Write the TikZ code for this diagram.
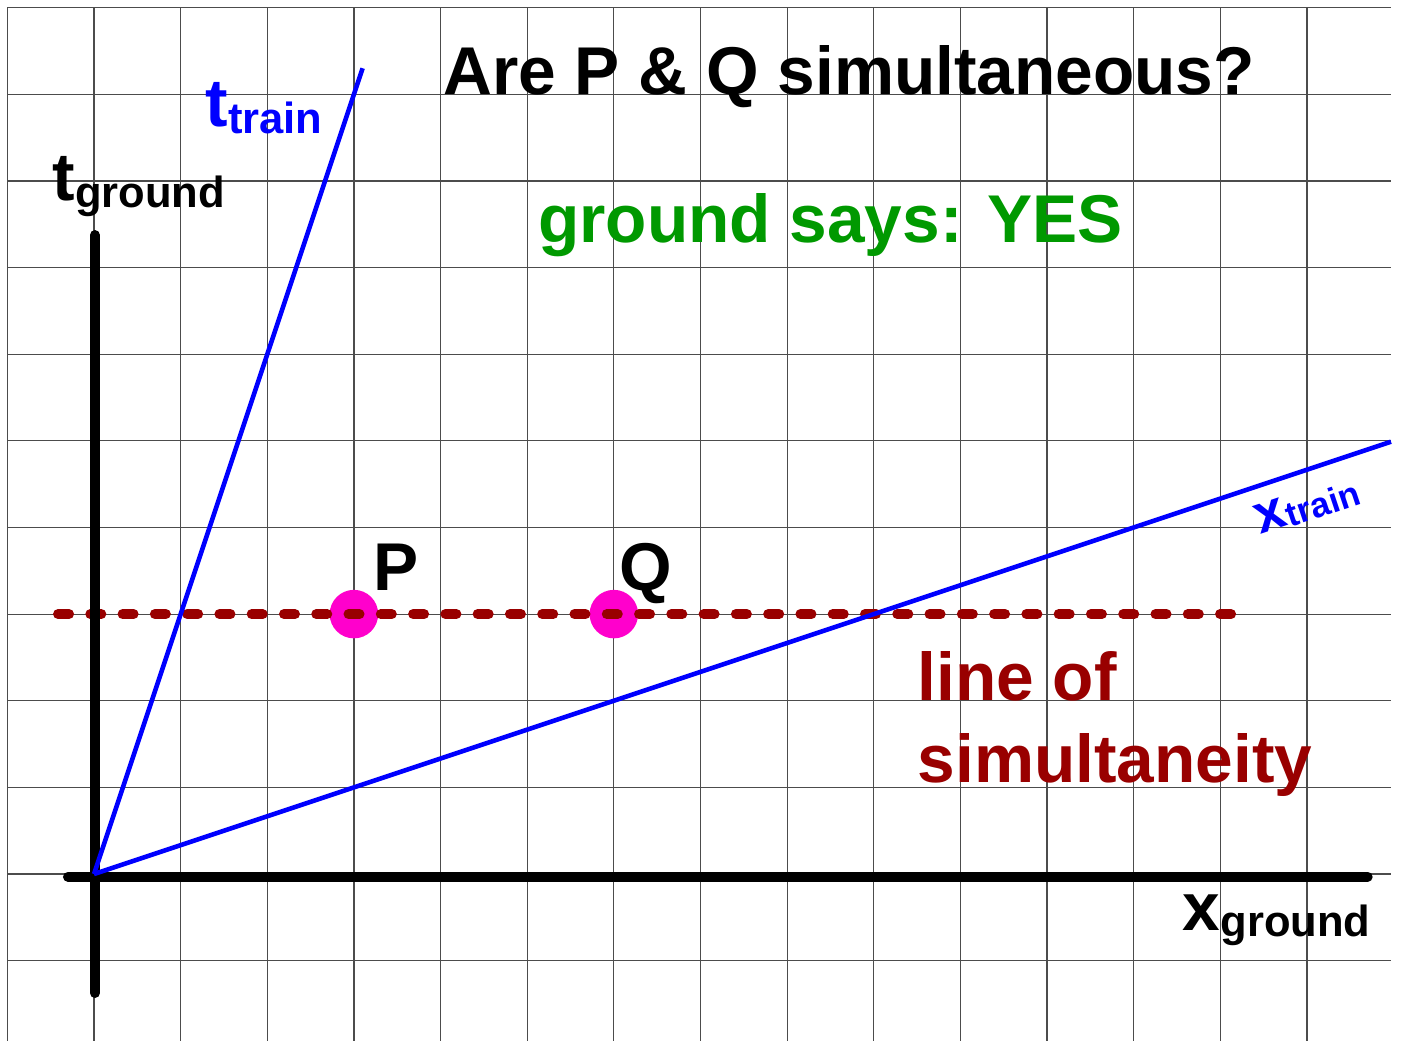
\documentclass[tikz,border=0pt]{standalone}
\usepackage{fontspec}
\setmainfont{Liberation Sans}
\usepackage{xcolor}
\usepackage{tikz}
\usetikzlibrary{positioning}
\definecolor{trainBlue}{HTML}{0000FF}
\definecolor{simulRed}{HTML}{990000}
\definecolor{sayGreen}{HTML}{009900}
\definecolor{eventPink}{HTML}{FF00CC}
\newcommand{\lowsub}[3][-2.2pt]{{\fontsize{#2}{#2}\selectfont\raisebox{#1}{#3}}}

\begin{document}
\begin{tikzpicture}[x=1cm, y=1cm,
    gridline/.style={black!70, line width=0.4pt},
    axisline/.style={line width=3.3pt, line cap=round},
    worldline/.style={trainBlue, line width=1.5pt},
    simline/.style={simulRed, line width=3.3pt, line cap=round, dash pattern=on 3.6pt off 7pt},
    eventdot/.style={circle, fill=eventPink, minimum size=0.56cm, inner sep=0pt},
    lbl/.style={font=\fontsize{22.2}{26.9}\selectfont\bfseries, inner sep=0pt, anchor=base west}]
  \useasboundingbox (-1.085,-1.927) rectangle (15.085,10.088);
  \fill[white] (-1.085,-1.927) rectangle (15.085,10.088);
  \draw[gridline] (-1,-1.927) grid (14.97,10);

  % events and the line through them
  \node[eventdot] (P) at (3,3) {};
  \node[eventdot] (Q) at (6,3) {};
  \coordinate (simL) at (-0.415,3);
  \coordinate (simR) at (13.18,3);
  \draw[simline] (simL) -- (simR);

  % ground axes
  \coordinate (O) at (0,0);
  \coordinate (xL) at (-0.30,-0.03);
  \coordinate (xR) at (14.70,-0.03);
  \coordinate (tB) at (0.01,-1.373);
  \coordinate (tT) at (0.01,7.375);
  \draw[axisline] (xL) -- (xR);
  \draw[axisline] (tB) -- (tT);

  % train axes
  \coordinate (ttrainEnd) at (3.1,9.3);
  \coordinate (xtrainEnd) at (14.97,4.99);
  \draw[worldline] (O) -- (ttrainEnd);
  \draw[worldline] (O) -- (xtrainEnd);

  % labels
  \node[lbl] (title) at (4.025,9.0) {Are P \& Q simultaneous?};
  \node[lbl, text=sayGreen] (says) at (5.12,7.29) {ground says: YES};
  \node[lbl] (tground) at (-0.484,7.774) {t\lowsub{14.3pt}{ground}};
  \node[lbl, text=trainBlue] (ttrain) at (1.28,8.627) {t\lowsub{14.3pt}{train}};
  \node[lbl] (xground) at (12.56,-0.646) {x\lowsub{14.3pt}{ground}};
  \node[lbl, text=trainBlue, font=\fontsize{18}{22}\selectfont\bfseries, rotate=18.5] (xtrain) at (13.46,3.92) {x\lowsub[-1pt]{11.5pt}{train}};
  \node[lbl] (Plbl) at (3.22,3.276) {P};
  \node[lbl] (Qlbl) at (6.06,3.276) {Q};
  \node[lbl, text=simulRed, align=left] (simlbl) at (9.50,1.062) {line of\\simultaneity};
\end{tikzpicture}
\end{document}
